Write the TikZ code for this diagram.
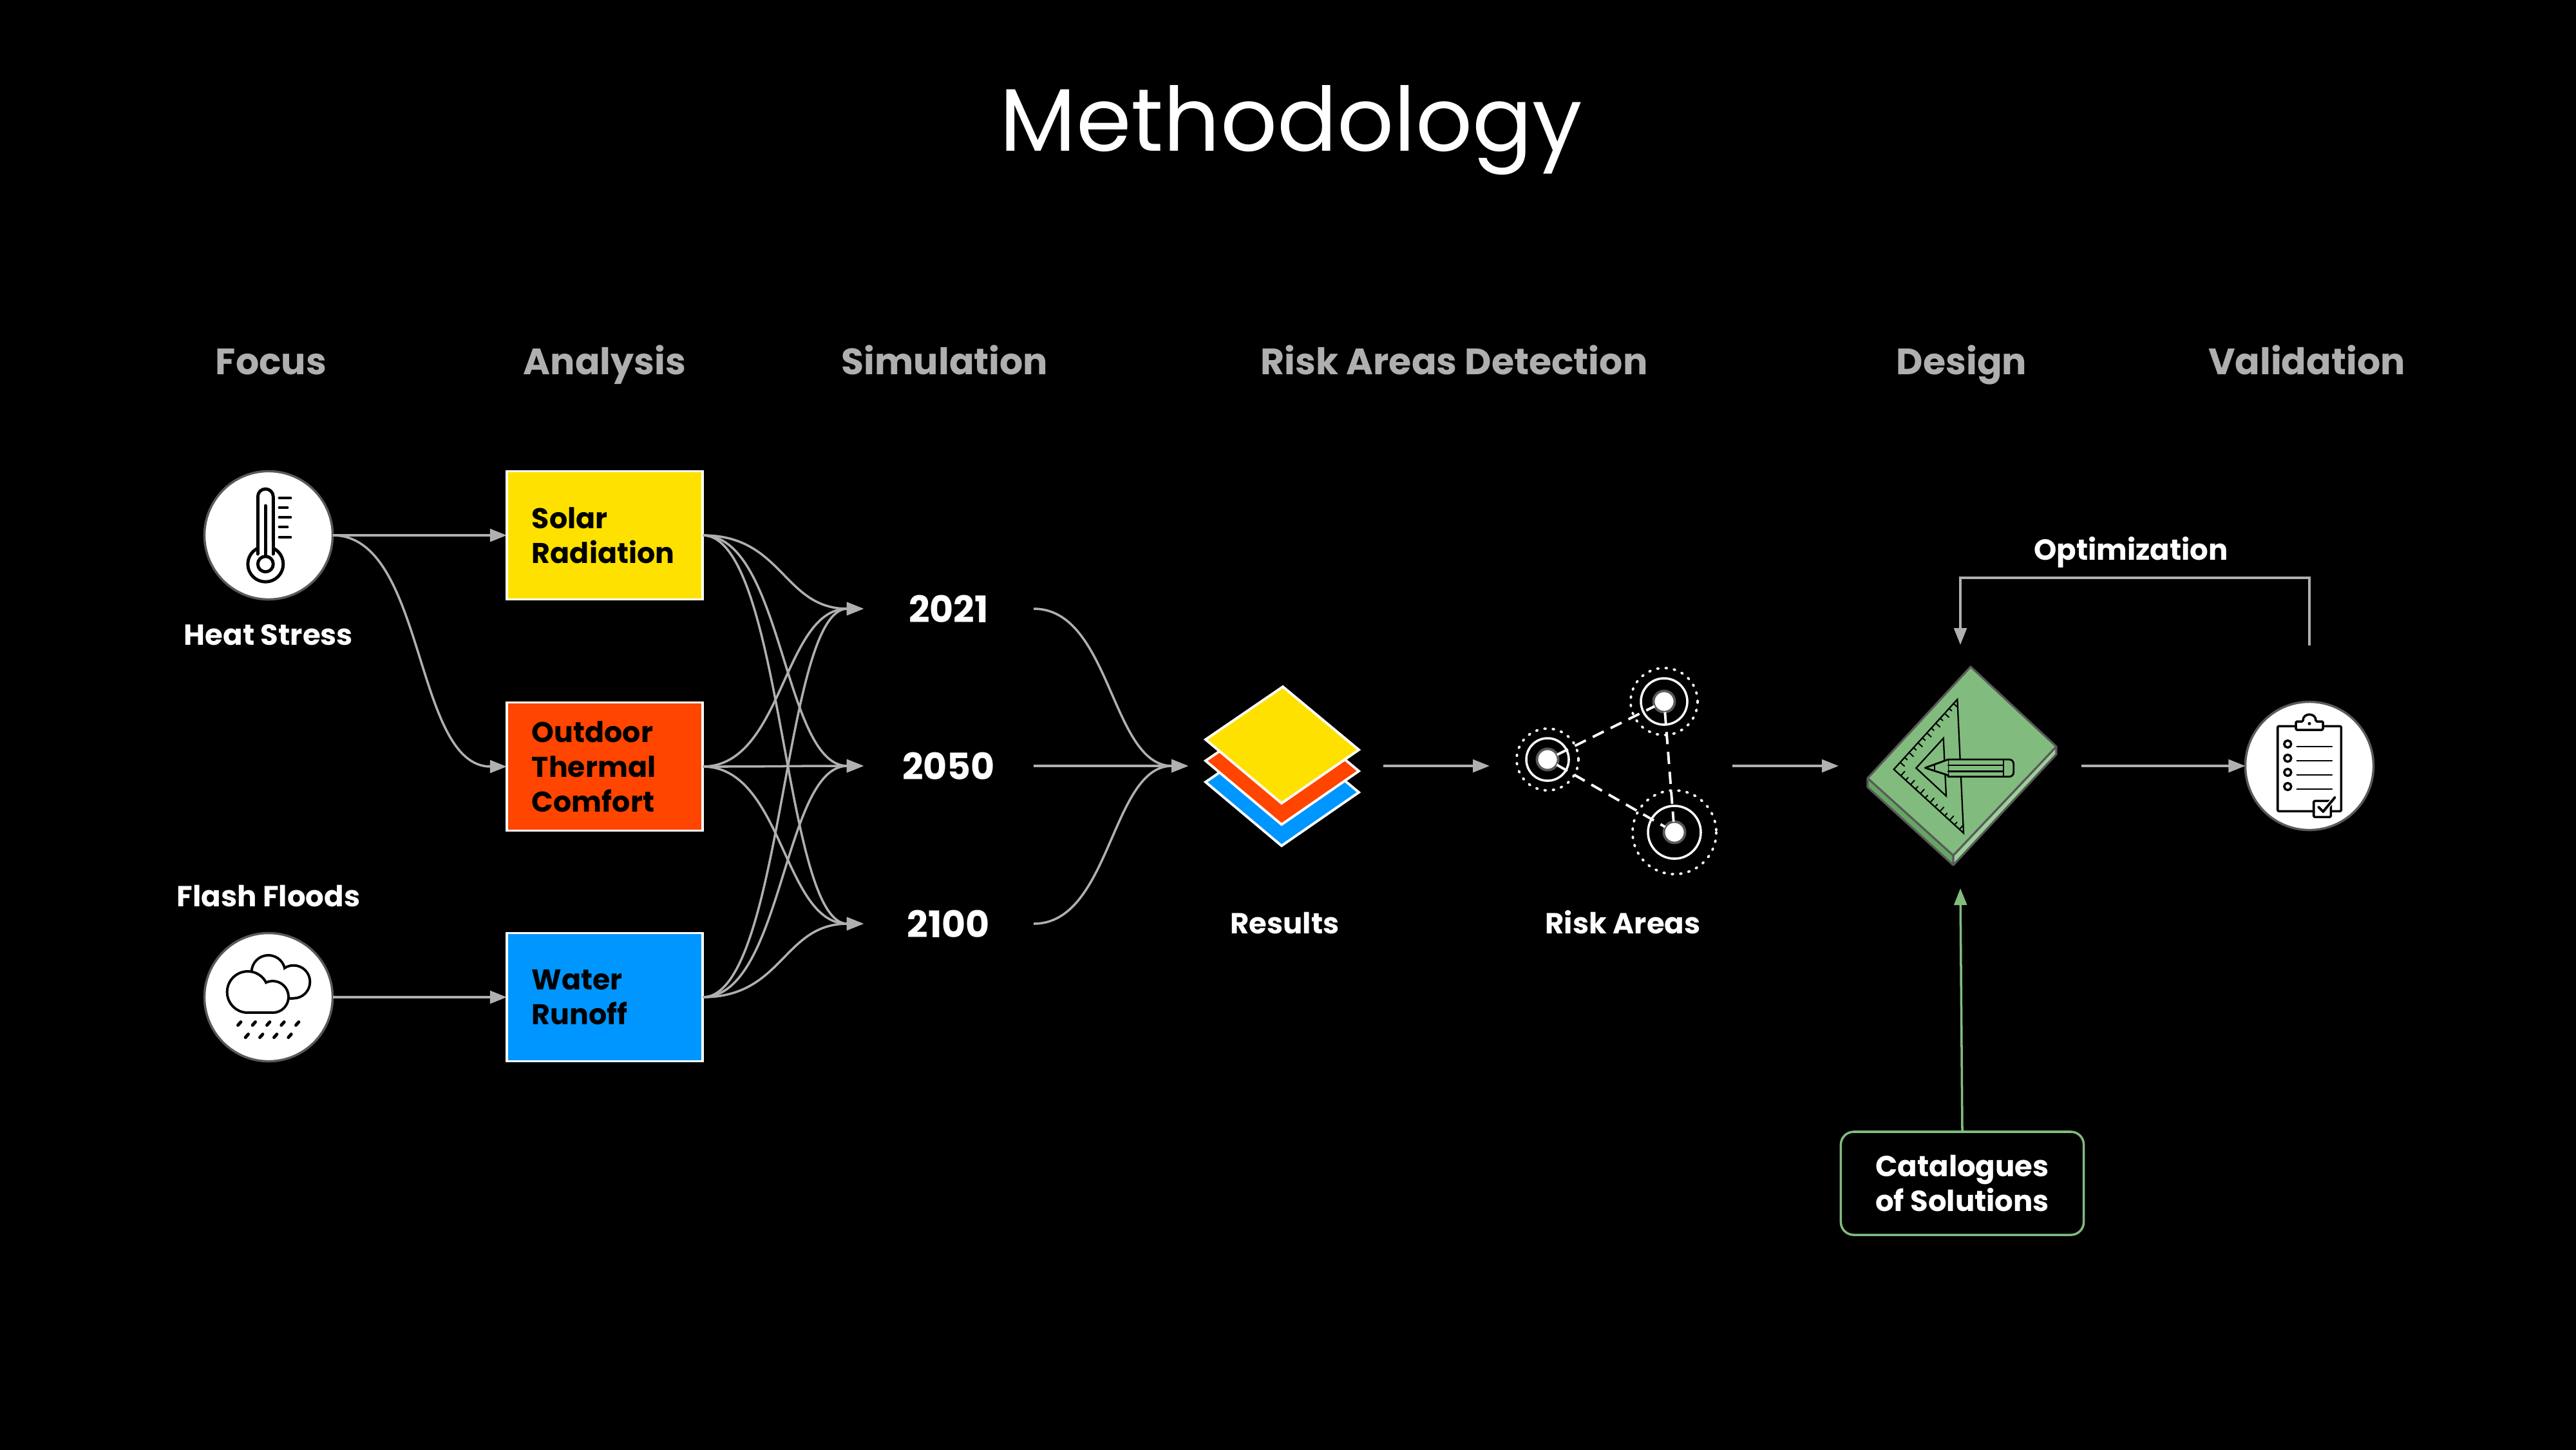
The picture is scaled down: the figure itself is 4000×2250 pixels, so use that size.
\documentclass[tikz,border=0pt]{standalone}
\usepackage{fontspec}
\setmainfont{Poppins}
\usetikzlibrary{arrows.meta,calc}

\definecolor{flowgray}{HTML}{B0B0B0}
\definecolor{headgray}{HTML}{AFAFAF}
\definecolor{rimgray}{HTML}{595959}
\definecolor{solaryellow}{HTML}{FFE100}
\definecolor{thermalred}{HTML}{FF4500}
\definecolor{runoffblue}{HTML}{0096FF}
\definecolor{bookgreen}{HTML}{81BC7E}
\definecolor{bookdark}{HTML}{66A663}
\definecolor{booklight}{HTML}{9CD099}

\begin{document}
\begin{tikzpicture}[
  x=0.01cm,
  y=-0.01cm,
  font=\bfseries,
  flow/.style={
    draw=flowgray,
    line width=1pt,
    -{Triangle[length=7.4pt,width=5.6pt]}
  },
  greenflow/.style={flow, draw=bookgreen},
  boxnode/.style={
    rectangle,
    draw=white,
    line width=1pt,
    minimum width=3.04cm,
    minimum height=1.99cm,
    inner xsep=0.39cm,
    inner ysep=0pt,
    outer sep=0pt,
    text width=2.26cm,
    align=left,
    text=black,
    font=\fontsize{12.6}{15.3}\selectfont\bfseries
  },
  disc/.style={
    circle,
    draw=rimgray,
    fill=white,
    line width=1pt,
    minimum size=1.99cm,
    inner sep=0pt,
    outer sep=0pt
  },
  header/.style={anchor=base, text=headgray, font=\fontsize{16.2}{18}\selectfont\bfseries},
  caption/.style={anchor=base, text=white, font=\fontsize{12.8}{15}\selectfont\bfseries},
  year/.style={
    text=white,
    minimum width=2.64cm,
    inner xsep=0pt,
    outer sep=0pt,
    font=\fontsize{16.2}{18}\selectfont\bfseries
  },
  layer/.style={draw=white, line width=1.1pt, line join=miter},
  riskcore/.style={
    circle,
    draw=rimgray,
    fill=white,
    line width=1.1pt,
    minimum size=0.33cm,
    inner sep=0pt,
    outer sep=0pt
  },
  riskring/.style={draw=white, line width=1pt},
  riskhalo/.style={draw=white, line width=1.1pt, line cap=round, dash pattern=on 0.6pt off 3.1pt},
  risklink/.style={draw=white, line width=1.1pt, dash pattern=on 5.4pt off 3.4pt},
  icon/.style={draw=black, line width=1pt, line cap=round, line join=round},
  thick icon/.style={icon, line width=1.4pt}
]

\useasboundingbox (0,0) rectangle (4000,2250);
\fill[black] (-20,-20) rectangle (4020,2270);

% ---------------------------------------------------------------------------
% Titles
% ---------------------------------------------------------------------------
\node[anchor=base, text=white, font=\fontsize{39.2}{44}\selectfont\mdseries] (title) at (2005,234) {Methodology};
\node[header] (hfocus) at (421,581) {Focus};
\node[header] (hanalysis) at (939,581) {Analysis};
\node[header] (hsimulation) at (1467,581) {Simulation};
\node[header] (hrisk) at (2258,581) {Risk Areas Detection};
\node[header] (hdesign) at (3046,581) {Design};
\node[header] (hvalidation) at (3582,581) {Validation};

% ---------------------------------------------------------------------------
% Focus
% ---------------------------------------------------------------------------
\node[disc] (heat) at (417,831) {};
\node[disc] (floods) at (417,1548) {};
\node[caption] (heatlabel) at (417,1001) {Heat Stress};
\node[caption] (floodslabel) at (417,1407) {Flash Floods};

% thermometer
\draw[thick icon, fill=white, rounded corners=0.12cm] (400.3,860) -- (400.3,759) -- (424.3,759) -- (424.3,860);
\draw[thick icon] (412.3,875.7) circle[radius=27.5];
\fill[white] (402.8,840) rectangle (421.8,860);
\draw[thick icon] (412.3,785) -- (412.3,862);
\draw[thick icon, fill=white] (412.3,875.7) circle[radius=12];
\foreach \ty/\tx in {773/451,788/446,803/451,818/446,834/451}
  \draw[thick icon] (434,\ty) -- (\tx,\ty);

% clouds
\foreach \grow/\tone in {2/black,-2/white} {
  \fill[\tone] (416.7,1509) circle[radius=26+\grow];
  \fill[\tone] (455.8,1524.2) circle[radius=25.5+\grow];
  \fill[\tone] (416.7,1510) rectangle (455.8,1549.7+\grow);
}
\foreach \grow/\tone in {2/black,-2/white} {
  \fill[\tone] (384.7,1540) circle[radius=32+\grow];
  \fill[\tone] (423.5,1547.5) circle[radius=24.5+\grow];
  \fill[\tone] (384.7,1545) rectangle (423.5,1572+\grow);
}
\foreach \rx in {371.7,394.3,416.7,439,461.7}
  \draw[thick icon] (\rx-2.2,1591.5) -- (\rx+2.2,1586.5);
\foreach \rx in {383.3,405.7,427.7,450}
  \draw[thick icon] (\rx-2.2,1610.5) -- (\rx+2.2,1605.5);

% ---------------------------------------------------------------------------
% Analysis and Simulation
% ---------------------------------------------------------------------------
\node[boxnode, fill=solaryellow] (solar) at (939,831) {Solar\\Radiation};
\node[boxnode, fill=thermalred] (outdoor) at (939,1190) {Outdoor\\Thermal\\Comfort};
\node[boxnode, fill=runoffblue] (water) at (939,1548) {Water\\Runoff};

\node[year] (y2021) at (1473,945) {2021};
\node[year] (y2050) at (1473,1189) {2050};
\node[year] (y2100) at (1473,1434) {2100};

\draw[flow] (heat.east) -- (solar.west);
\draw[flow] (heat.east) .. controls +(145,0) and +(-145,0) .. (outdoor.west);
\draw[flow] (floods.east) -- (water.west);

\foreach \src in {solar,outdoor,water}
  \foreach \dst in {y2021,y2050,y2100}
    \draw[flow] (\src.east) .. controls +(125,0) and +(-125,0) .. (\dst.west);

\coordinate (resultsin) at (1845,1189);
\foreach \src in {y2021,y2050,y2100}
  \draw[flow] (\src.east) .. controls +(120,0) and +(-120,0) .. (resultsin);

% ---------------------------------------------------------------------------
% Results
% ---------------------------------------------------------------------------
\foreach \dy/\tone in {66/runoffblue,33/thermalred,0/solaryellow}
  \draw[layer, fill=\tone] (1992,1066+\dy) -- (2110,1164+\dy) -- (1990,1247+\dy) -- (1872,1148+\dy) -- cycle;
\node[caption] (resultslabel) at (1995,1449) {Results};

% ---------------------------------------------------------------------------
% Risk areas
% ---------------------------------------------------------------------------
\node[riskcore] (riska) at (2403,1179) {};
\node[riskcore] (riskb) at (2584,1089) {};
\node[riskcore] (riskc) at (2600,1292) {};
\draw[risklink] (riska) -- (riskb);
\draw[risklink] (riskb) -- (riskc);
\draw[risklink] (riska) -- (riskc);
\draw[riskring] (riska) circle[radius=33];
\draw[riskring] (riskb) circle[radius=36];
\draw[riskring] (riskc) circle[radius=41];
\draw[riskhalo] (riska) circle[radius=48];
\draw[riskhalo] (riskb) circle[radius=52];
\draw[riskhalo] (riskc) circle[radius=65];
\node[caption] (risklabel) at (2520,1449) {Risk Areas};

\coordinate (riskstart) at (2148,1189);
\coordinate (riskend) at (2313,1189);
\draw[flow] (riskstart) -- (riskend);

% ---------------------------------------------------------------------------
% Design
% ---------------------------------------------------------------------------
\coordinate (designin) at (2855,1189);
\coordinate (designout) at (3232,1189);
\coordinate (riskout) at (2690,1189);
\draw[flow] (riskout) -- (designin);

\fill[bookdark] (2900,1208) -- (3033,1328) -- (3033,1343) -- (2900,1222) -- cycle;
\fill[booklight] (3033,1328) -- (3193,1159) -- (3193,1171) -- (3033,1343) -- cycle;
\draw[draw=rimgray, line width=0.9pt, line join=round, fill=bookgreen]
  (3060,1035) -- (3193,1159) -- (3033,1328) -- (2900,1208) -- cycle;
\draw[draw=rimgray, line width=0.9pt, line join=round]
  (2900,1208) -- (2900,1222) -- (3033,1343) -- (3193,1171) -- (3193,1159) (3033,1328) -- (3033,1343);

% set square
\coordinate (rulera) at (3039.3,1085.7);
\coordinate (rulerb) at (2940.7,1194.3);
\coordinate (rulerc) at (3049,1293.3);
\draw[icon, line join=miter, line width=0.65pt] (rulera) -- (rulerb) -- (rulerc) -- cycle;
\draw[icon, line join=miter, line width=0.65pt] (3017.7,1146) -- (2975.3,1192.3) -- (3022,1235.7) -- cycle;
\foreach \t [count=\i] in {0.1,0.17,0.24,0.31,0.38,0.45,0.52,0.59,0.66,0.73,0.80,0.87,0.94} {
  \pgfmathsetmacro\len{isodd(\i)?0.09:0.055}
  \draw[icon, line width=0.55pt] ($(rulerb)!\t!(rulera)$) coordinate (p) -- ($(p)!\len cm!-90:(rulera)$);
  \draw[icon, line width=0.55pt] ($(rulerb)!\t!(rulerc)$) coordinate (p) -- ($(p)!\len cm!90:(rulerc)$);
}

% pencil
\draw[icon, fill=bookgreen, line width=0.8pt]
  (3025,1179) -- (3120,1179) to[out=0,in=90] (3126.7,1186) -- (3126.7,1199) to[out=-90,in=0] (3120,1205.7) -- (3025,1205.7) -- cycle;
\draw[icon, fill=bookgreen, line width=0.8pt] (3025,1179) -- (2989.3,1192) -- (3025,1203.5);
\draw[icon, line width=0.7pt] (3004,1187) -- (3004,1197);
\draw[icon, line width=0.7pt] (3025,1187.7) -- (3110.7,1187.7) (3025,1197.3) -- (3110.7,1197.3);
\draw[icon, line width=0.7pt] (3110.7,1179) -- (3110.7,1205.7);

% ---------------------------------------------------------------------------
% Catalogues and optimization loop
% ---------------------------------------------------------------------------
\node[
  rectangle,
  draw=bookgreen,
  line width=1pt,
  rounded corners=0.2cm,
  minimum width=3.77cm,
  minimum height=1.6cm,
  align=center,
  text=white,
  font=\fontsize{12.8}{15.2}\selectfont\bfseries
] (catalogues) at (3047,1837) {Catalogues\\of Solutions};
\coordinate (designbelow) at (3044,1379);
\draw[greenflow] (catalogues.north) -- (designbelow);

\coordinate (loopstart) at (3586,1002);
\coordinate (loopend) at (3044,1001);
\draw[flow] (loopstart) |- (3315,897) -| (loopend);
\node[caption] (looplabel) at (3309,869) {Optimization};

% ---------------------------------------------------------------------------
% Validation
% ---------------------------------------------------------------------------
\node[disc] (validation) at (3586,1189) {};
\draw[flow] (designout) -- (validation.west);

\draw[icon, rounded corners=0.02cm] (3536.7,1127.3) rectangle (3635.3,1259.3);
\draw[icon, fill=white, rounded corners=0.015cm] (3565,1133) -- (3565,1120) -- (3576,1120)
  .. controls (3576,1106) and (3596,1106) .. (3596,1120) -- (3607,1120) -- (3607,1133) -- cycle;
\fill[black] (3586,1123.3) circle[radius=2.5];
\foreach \ly in {1155,1177,1199,1221} {
  \draw[icon] (3552.3,\ly) circle[radius=5.5];
  \draw[icon, line width=0.8pt] (3566.7,\ly+4) -- (3621,\ly+4);
}
\draw[icon, fill=white, rounded corners=0.015cm] (3592.7,1243.3) rectangle (3619.3,1268.3);
\draw[draw=white, line width=2pt] (3600,1252.7) -- (3607.3,1260) -- (3625.7,1237.7);
\draw[icon, line width=1.1pt] (3600,1252.7) -- (3607.3,1260) -- (3625.7,1237.7);

\end{tikzpicture}
\end{document}
